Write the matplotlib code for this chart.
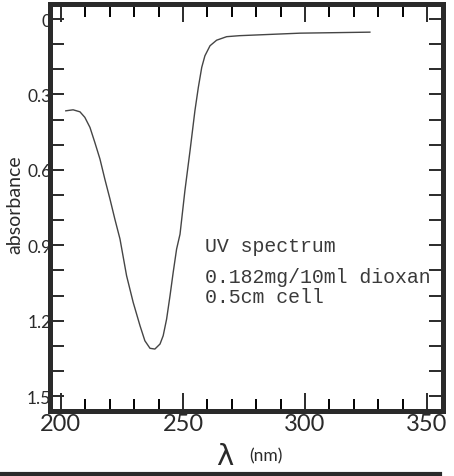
import matplotlib
matplotlib.use("Agg")
import matplotlib.pyplot as plt
import numpy as np
from matplotlib.lines import Line2D

# data
wavelength_nm = [202.0, 205.0, 207.8, 209.8, 211.9, 213.9, 216.0, 218.0, 220.1, 222.1,
                 224.2, 226.9, 229.6, 232.4, 234.4, 236.5, 238.5, 240.6, 241.9, 243.3,
                 244.7, 246.0, 247.4, 248.8, 250.8, 252.9, 254.9, 256.3, 257.7, 259.0,
                 261.1, 263.8, 267.9, 273.2, 298.0, 326.6]
absorbance = [0.365, 0.361, 0.369, 0.391, 0.431, 0.491, 0.557, 0.637, 0.716, 0.796,
              0.875, 1.021, 1.127, 1.220, 1.280, 1.310, 1.313, 1.293, 1.260, 1.194,
              1.101, 1.008, 0.915, 0.856, 0.683, 0.524, 0.365, 0.272, 0.192, 0.146,
              0.106, 0.084, 0.070, 0.066, 0.056, 0.052]
x_ticks = [200, 250, 300, 350]
y_ticks = [0, 0.3, 0.6, 0.9, 1.2, 1.5]
y_tick_labels = ["0", "0.3", "0.6", "0.9", "1.2", "1.5"]
notes = ["UV spectrum", "0.182mg/10ml dioxan", "0.5cm cell"]

fig = plt.figure(figsize=(4.54, 4.77), dpi=100)
ax = fig.add_axes([0.110, 0.136, 0.866, 0.8535])

ax.plot(wavelength_nm, absorbance, color="#454545", lw=1.0)

ax.set_xlim(195.5, 356.6)
ax.set_ylim(1.56, -0.06)

for s in ax.spines.values():
    s.set_linewidth(3.6)
    s.set_color("#2a2a2a")

ax.set_xticks(x_ticks)
ax.set_xticks(np.arange(200, 360, 10), minor=True)
ax.set_yticks(y_ticks)
ax.set_yticklabels(y_tick_labels)
ax.set_yticks(np.arange(0, 1.55, 0.1), minor=True)

ax.tick_params(axis="x", which="major", direction="in", length=13, width=1.4,
               top=True, bottom=True, labelsize=17, pad=1, colors="#2a2a2a")
ax.tick_params(axis="x", which="minor", direction="in", length=9, width=1.4,
               top=True, bottom=True)
ax.tick_params(axis="y", which="both", direction="in", length=10, width=1.4,
               left=True, right=True, colors="#2a2a2a")
ax.tick_params(axis="y", which="major", labelsize=12.5, pad=-1)
for lab in ax.get_xticklabels() + ax.get_yticklabels():
    lab.set_family("Lato")
    lab.set_color("#2a2a2a")

note_y = [0.393, 0.317, 0.268]
for t, yy in zip(notes, note_y):
    ax.text(0.394, yy, t, transform=ax.transAxes, family="Liberation Mono",
            fontsize=14.3, color="#3a3a3a", va="baseline", clip_on=True)

fig.text(0.033, 0.57, "absorbance", rotation=90, ha="center", va="center",
         family="Lato", fontsize=14, color="#2a2a2a")
fig.text(0.495, 0.025, "λ", ha="center", va="baseline", family="DejaVu Sans",
         fontsize=21, color="#2a2a2a")
fig.text(0.55, 0.033, "(nm)", ha="left", va="baseline", family="Lato",
         fontsize=12.5, color="#2a2a2a")

fig.add_artist(Line2D([0.0, 0.97], [0.005, 0.005], transform=fig.transFigure,
                      color="#2a2a2a", lw=3))

fig.savefig("out.png", dpi=100)
